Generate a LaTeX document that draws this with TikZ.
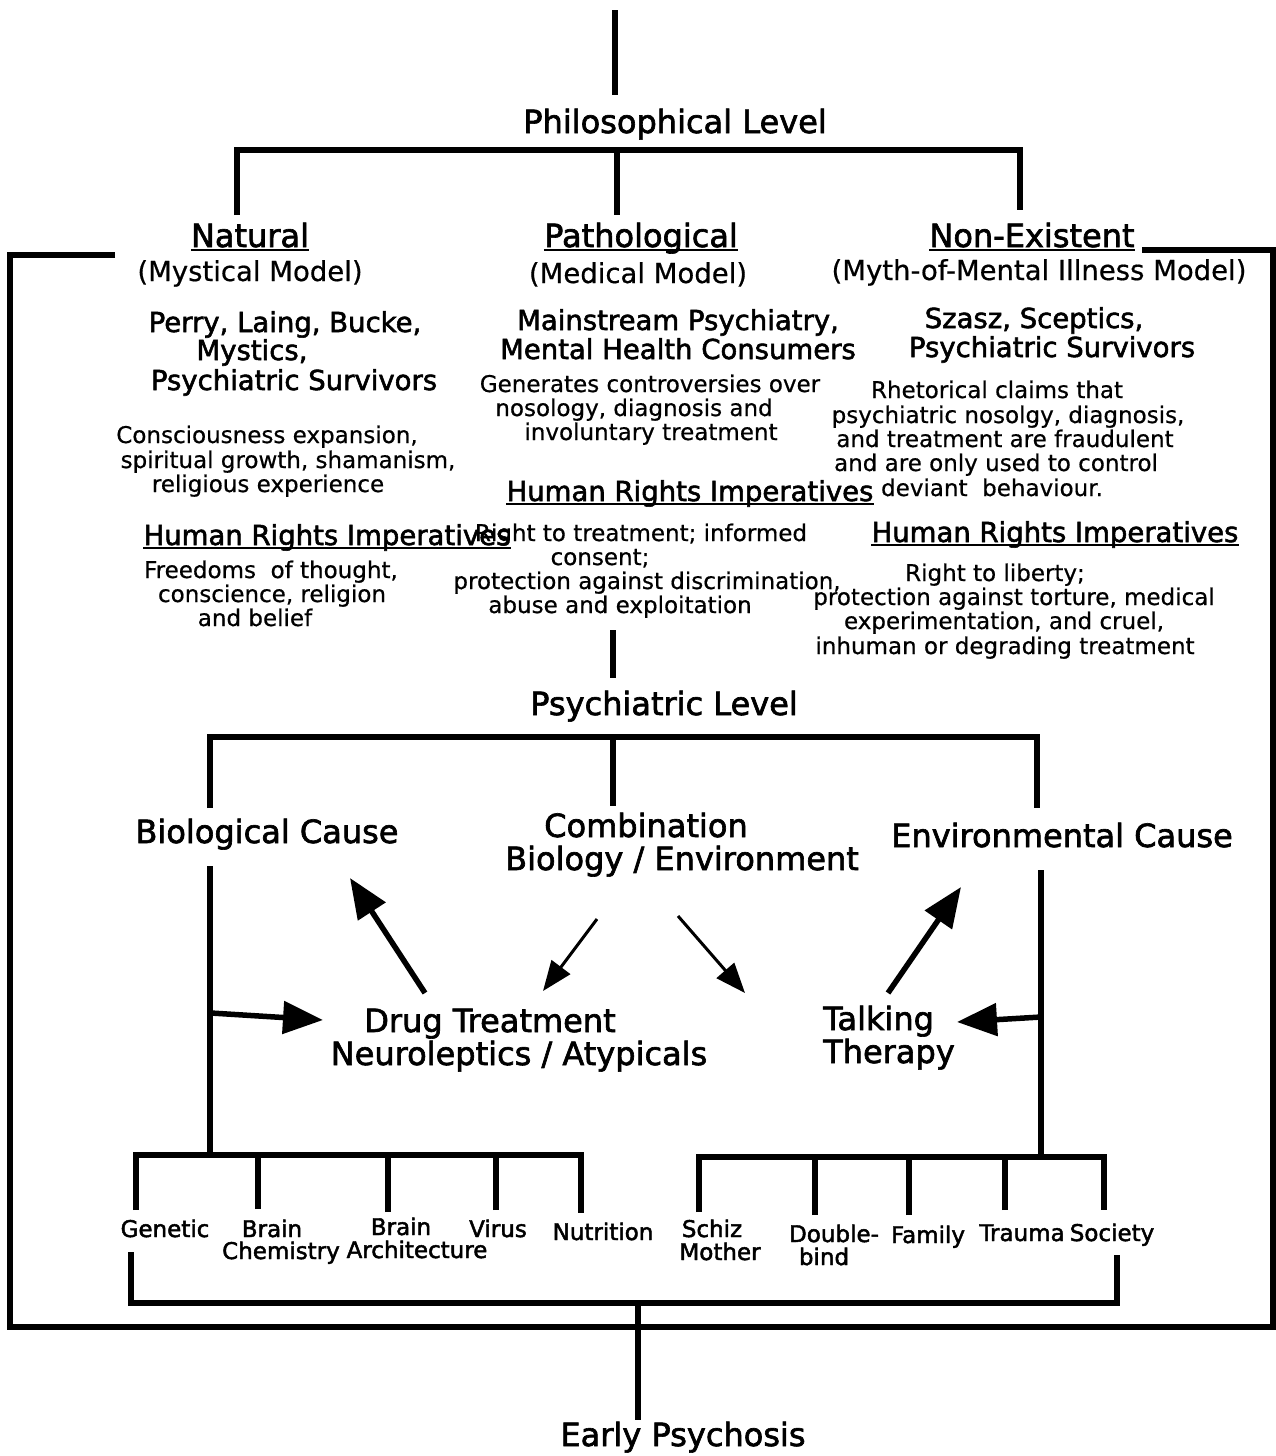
\documentclass[tikz,border=0pt]{standalone}
\usepackage{fontspec}
\setmainfont{DejaVu Sans}
\newfontfamily\hvy[FakeBold=2]{DejaVu Sans}
\newfontfamily\reg[FakeBold=0.6]{DejaVu Sans}
\usetikzlibrary{arrows.meta}
\newcommand\fA{\hvy\fontsize{32}{36}\selectfont}
\newcommand\fB{\hvy\fontsize{27.5}{30}\selectfont}
\newcommand\fM{\reg\fontsize{27.5}{30}\selectfont}
\newcommand\fS{\reg\fontsize{23}{24}\selectfont}
\newcommand\fL{\hvy\fontsize{23}{24}\selectfont}
\tikzset{
  big/.style={font=\fA, inner sep=0pt, anchor=base},
  grp/.style={font=\fB, inner sep=0pt, anchor=base},
  mdl/.style={font=\fM, inner sep=0pt, anchor=base},
  txt/.style={font=\fS, inner sep=0pt, anchor=base},
  lbl/.style={font=\fL, inner sep=0pt, anchor=base},
  bar/.style={line width=6.5pt},
  frm/.style={line width=6.5pt},
  ul/.style={line width=2pt},
  bigarrow/.style={line width=5.5pt, -{Triangle[length=40pt,width=32pt]}},
  thinarrow/.style={line width=3pt, -{Triangle[length=30pt,width=23pt]}},
}
\begin{document}
\begin{tikzpicture}[x=1pt,y=-1pt]
\useasboundingbox (0,0) rectangle (1276,1456);

% ---------- Philosophical level ----------
\node[big] (phil) at (675,133) {Philosophical Level};
\coordinate (top) at (615,10);
\coordinate (topb) at (615,95);
\draw[bar] (top) -- (topb);

\node[big] (nat) at (250,247) {Natural};
\node[big] (path) at (641,247) {Pathological};
\node[big] (nonex) at (1032,247) {Non-Existent};
\foreach \n in {nat,path,nonex}
  \draw[ul] ([yshift=-3pt]\n.base west) -- ([yshift=-3pt]\n.base east);

\coordinate (pb1) at (237,215);
\coordinate (pb2) at (617,215);
\coordinate (pb3) at (1020,210);
\coordinate (pbm) at (617,150);
\draw[bar] (pb1) |- (pbm) -| (pb3);
\draw[bar] (pbm) -- (pb2);

% frame
\coordinate (f1) at (115,255);
\coordinate (f2) at (10,255);
\coordinate (f3) at (10,1327);
\coordinate (f4) at (1273,1327);
\coordinate (f5) at (1273,250);
\coordinate (f6) at (1142,250);
\draw[frm] (f1) -- (f2) -- (f3) -- (f4) -- (f5) -- (f6);

\node[mdl] (mys) at (250,281) {(Mystical Model)};
\node[mdl] (med) at (638,283) {(Medical Model)};
\node[mdl] (myth) at (1039,280) {(Myth-of-Mental Illness Model)};

% left column
\node[grp] (l1) at (285,332) {Perry, Laing, Bucke,};
\node[grp] (l2) at (252,360) {Mystics,};
\node[grp] (l3) at (294,390) {Psychiatric Survivors};
\node[txt] (l4) at (267,443) {Consciousness expansion,};
\node[txt] (l5) at (288,468) {spiritual growth, shamanism,};
\node[txt] (l6) at (268,492) {religious experience};
\node[grp] (lh) at (327,545) {Human Rights Imperatives};
\draw[ul] ([yshift=-3pt]lh.base west) -- ([yshift=-3pt]lh.base east);
\node[txt] (l7) at (271,578) {Freedoms\ \ of thought,};
\node[txt] (l8) at (272,602) {conscience, religion};
\node[txt] (l9) at (255,626) {and belief};

% middle column
\node[grp] (m1) at (678,330) {Mainstream Psychiatry,};
\node[grp] (m2) at (678,359) {Mental Health Consumers};
\node[txt] (m3) at (650,392) {Generates controversies over};
\node[txt] (m4) at (634,416) {nosology, diagnosis and};
\node[txt] (m5) at (651,440) {involuntary treatment};
\node[grp] (mh) at (690,501) {Human Rights Imperatives};
\draw[ul] ([yshift=-3pt]mh.base west) -- ([yshift=-3pt]mh.base east);
\node[txt] (m6) at (641,541) {Right to treatment; informed};
\node[txt] (m7) at (600,565) {consent;};
\node[txt] (m8) at (647,589) {protection against discrimination,};
\node[txt] (m9) at (620,613) {abuse and exploitation};

% right column
\node[grp] (r1) at (1034,328) {Szasz, Sceptics,};
\node[grp] (r2) at (1052,357) {Psychiatric Survivors};
\node[txt] (r3) at (997,398) {Rhetorical claims that};
\node[txt] (r4) at (1008,423) {psychiatric nosolgy, diagnosis,};
\node[txt] (r5) at (1005,447) {and treatment are fraudulent};
\node[txt] (r6) at (996,471) {and are only used to control};
\node[txt] (r7) at (992,496) {deviant\ \ behaviour.};
\node[grp] (rh) at (1055,542) {Human Rights Imperatives};
\draw[ul] ([yshift=-3pt]rh.base west) -- ([yshift=-3pt]rh.base east);
\node[txt] (r8) at (995,581) {Right to liberty;};
\node[txt] (r9) at (1014,605) {protection against torture, medical};
\node[txt] (r10) at (1004,629) {experimentation, and cruel,};
\node[txt] (r11) at (1005,654) {inhuman or degrading treatment};

% ---------- Psychiatric level ----------
\node[big] (psy) at (664,715) {Psychiatric Level};
\coordinate (pa) at (613,630);
\coordinate (pz) at (613,678);
\draw[bar] (pa) -- (pz);

\coordinate (q1) at (210,808);
\coordinate (q2) at (613,806);
\coordinate (q3) at (1037,808);
\coordinate (qm) at (613,737);
\draw[bar] (q1) |- (qm) -| (q3);
\draw[bar] (qm) -- (q2);

\node[big] (bio) at (267,843) {Biological Cause};
\node[big] (comb1) at (646,837) {Combination};
\node[big] (comb2) at (682,870) {Biology / Environment};
\node[big] (env) at (1062,847) {Environmental Cause};

\node[big] (drug1) at (490,1032) {Drug Treatment};
\node[big] (drug2) at (519,1065) {Neuroleptics / Atypicals};
\node[big,anchor=base west] (talk1) at (823,1030) {Talking};
\node[big,anchor=base west] (talk2) at (823,1063) {Therapy};

% vertical trunks
\coordinate (bt) at (210,866);
\coordinate (bb) at (210,1155);
\coordinate (et) at (1041,870);
\coordinate (eb) at (1041,1157);
\draw[bar] (bt) -- (bb);
\draw[bar] (et) -- (eb);

% arrows
\coordinate (a1s) at (425,993); \coordinate (a1e) at (350,878);
\coordinate (a2s) at (597,919); \coordinate (a2e) at (543,991);
\coordinate (a3s) at (678,916); \coordinate (a3e) at (745,993);
\coordinate (a4s) at (888,993); \coordinate (a4e) at (961,887);
\coordinate (a5s) at (211,1013); \coordinate (a5e) at (323,1020);
\coordinate (a6s) at (1041,1017); \coordinate (a6e) at (957,1022);
\draw[bigarrow] (a1s) -- (a1e);
\draw[thinarrow] (a2s) -- (a2e);
\draw[thinarrow] (a3s) -- (a3e);
\draw[bigarrow] (a4s) -- (a4e);
\draw[bigarrow] (a5s) -- (a5e);
\draw[bigarrow] (a6s) -- (a6e);

% ---------- bottom brackets ----------
\coordinate (lb1) at (136,1210);
\coordinate (lb2) at (258,1209);
\coordinate (lb3) at (388,1212);
\coordinate (lb4) at (496,1210);
\coordinate (lb5) at (581,1213);
\coordinate (lbm) at (136,1155);
\coordinate (lbr) at (581,1155);
\draw[bar] (lb1) -- (lbm) -- (lbr) -- (lb5);
\foreach \c in {lb2,lb3,lb4}
  \draw[bar] (\c) -- (\c |- lbm);

\coordinate (rb1) at (699,1212);
\coordinate (rb2) at (815,1215);
\coordinate (rb3) at (909,1215);
\coordinate (rb4) at (1005,1210);
\coordinate (rb5) at (1104,1210);
\coordinate (rbm) at (699,1157);
\coordinate (rbr) at (1104,1157);
\draw[bar] (rb1) -- (rbm) -- (rbr) -- (rb5);
\foreach \c in {rb2,rb3,rb4}
  \draw[bar] (\c) -- (\c |- rbm);

\node[lbl] (gen) at (165,1237) {Genetic};
\node[lbl] (bc1) at (272,1237) {Brain};
\node[lbl] (bc2) at (281,1259) {Chemistry};
\node[lbl] (ba1) at (401,1235) {Brain};
\node[lbl] (ba2) at (417,1258) {Architecture};
\node[lbl] (vir) at (498,1237) {Virus};
\node[lbl] (nut) at (603,1240) {Nutrition};
\node[lbl] (sm1) at (712,1237) {Schiz};
\node[lbl] (sm2) at (720,1260) {Mother};
\node[lbl] (db1) at (834,1242) {Double-};
\node[lbl] (db2) at (824,1265) {bind};
\node[lbl] (fam) at (928,1243) {Family};
\node[lbl] (tra) at (1022,1241) {Trauma};
\node[lbl] (soc) at (1112,1241) {Society};

\coordinate (c1) at (131,1252);
\coordinate (c2) at (131,1303);
\coordinate (c3) at (1117,1303);
\coordinate (c4) at (1117,1255);
\draw[bar] (c1) -- (c2) -- (c3) -- (c4);

\node[big] (early) at (683,1446) {Early Psychosis};
\coordinate (ec) at (638,1303);
\coordinate (ee) at (638,1420);
\draw[bar] (ec) -- (ee);
\end{tikzpicture}
\end{document}
